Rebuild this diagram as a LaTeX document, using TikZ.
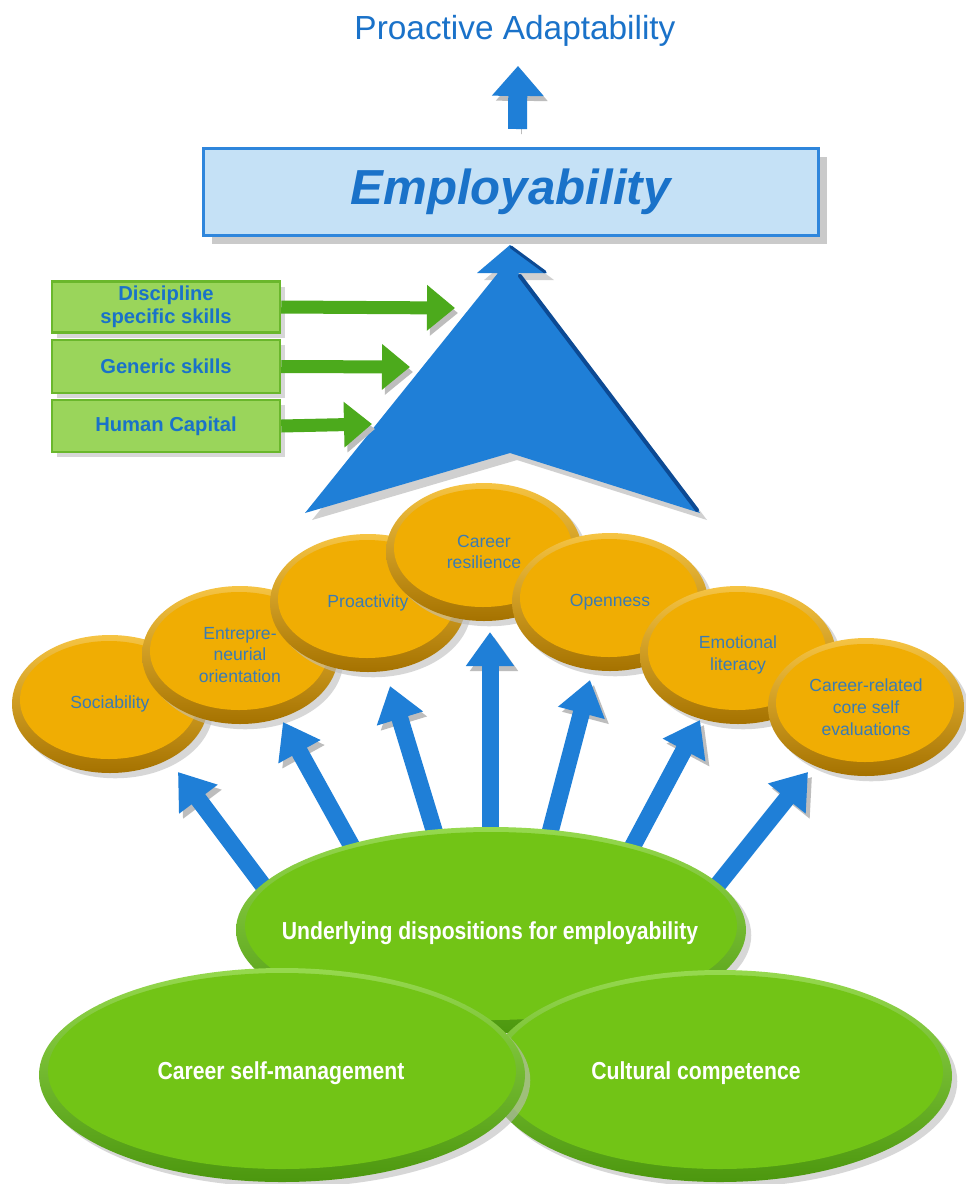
\documentclass[tikz,border=0pt]{standalone}
\usepackage{fontspec}
\setmainfont{Liberation Sans}
\newfontfamily\narrowfont[FakeStretch=0.86]{Liberation Sans}
\usetikzlibrary{shapes.geometric,arrows.meta,shadows}
\newlength\pxu
\setlength\pxu{0.02cm}
\definecolor{tblue}{HTML}{1A72C9}
\definecolor{boxfill}{HTML}{C5E1F6}
\definecolor{boxdraw}{HTML}{2F86DC}
\definecolor{bblue}{HTML}{1F7FD7}
\definecolor{bdark}{HTML}{0C4A94}
\definecolor{gboxfill}{HTML}{9AD55B}
\definecolor{gboxdraw}{HTML}{6AB72C}
\definecolor{garrow}{HTML}{4CAA1C}
\definecolor{otext}{HTML}{3A7BB4}
\definecolor{orimT}{HTML}{F6C443}
\definecolor{orimB}{HTML}{A57200}
\definecolor{oface}{HTML}{F0AD03}
\definecolor{grimT}{HTML}{96D94F}
\definecolor{grimB}{HTML}{4C970E}
\definecolor{gface}{HTML}{72C416}
\definecolor{shdcol}{HTML}{BDBDBD}
\tikzset{
  shd/.style={drop shadow={shadow xshift=3pt,shadow yshift=-3pt,fill=shdcol,opacity=0.6}},
  oell/.style={ellipse, inner sep=0pt, minimum width=196\pxu, minimum height=138\pxu,
    top color=orimT, bottom color=orimB, shd,
    path picture={\fill[oface] ([xshift=-1\pxu,yshift=4\pxu]path picture bounding box.center) ellipse [x radius=89\pxu, y radius=59\pxu];},
    text=otext, align=center, font=\fontsize{10}{12.4}\selectfont},
  gell/.style n args={4}{ellipse, inner sep=0pt, minimum width=#1\pxu, minimum height=#2\pxu,
    top color=grimT, bottom color=grimB, shd,
    path picture={\fill[gface] ([yshift=4\pxu]path picture bounding box.center) ellipse [x radius=#3\pxu, y radius=#4\pxu];}},
  gtext/.style={text=white, font=\narrowfont\bfseries\fontsize{14}{16}\selectfont, inner sep=0pt},
  gbox/.style={draw=gboxdraw, fill=gboxfill, line width=2.5\pxu, minimum width=228\pxu, inner sep=0pt,
    text=tblue, align=center, font=\bfseries\fontsize{11.5}{13.2}\selectfont, shd},
  barrow/.style={line width=0.34cm, draw=bblue, -{Triangle[width=0.92cm,length=0.68cm]},
    preaction={draw=shdcol, transform canvas={shift={(0.08cm,-0.1cm)}}}},
  garr/.style={line width=0.26cm, draw=garrow, -{Triangle[width=0.88cm,length=0.56cm]},
    preaction={draw=shdcol, transform canvas={shift={(0.06cm,-0.1cm)}}}},
  tarr/.style={line width=0.38cm, draw=bblue, -{Triangle[width=1cm,length=0.6cm]},
    preaction={draw=shdcol, transform canvas={shift={(0.08cm,-0.1cm)}}}},
}
\begin{document}
\begin{tikzpicture}[x=0.02cm,y=-0.02cm]
\useasboundingbox (0,0) rectangle (966,1184);
\fill[white] (0,0) rectangle (966,1184);

% title
\node[text=tblue, font=\fontsize{19}{22}\selectfont, inner sep=0pt] (pa) at (515,31) {Proactive Adaptability};

% Employability box
\node[draw=boxdraw, fill=boxfill, line width=3\pxu, minimum width=615\pxu, minimum height=87\pxu,
  drop shadow={shadow xshift=5pt,shadow yshift=-5pt,fill=shdcol,opacity=0.8},
  text=tblue, font=\bfseries\itshape\fontsize{28}{32}\selectfont] (emp) at (510.5,192) {Employability};

% arrow to Proactive Adaptability
\draw[tarr] ([xshift=0.14cm,yshift=0.36cm]emp.north) -- ([xshift=0.06cm,yshift=-0.38cm]pa.south);

% big blue arrowhead
\coordinate (tip) at (510,245);
\coordinate (t1) at (455,308);
\coordinate (t2) at (410,367);
\coordinate (t3) at (372,424);
\fill[bblue, drop shadow={shadow xshift=4pt,shadow yshift=-4pt,fill=shdcol,opacity=0.7}]
  (tip) -- (547,273) -- (518,273) -- (700,513) -- (510,453) -- (305,513) -- (498,273) -- (477,273) -- cycle;
\draw[bdark, line width=4\pxu, line cap=round] (520,276) -- (697,510);
\draw[bdark, line width=3\pxu, line cap=round] (511,247) -- (545,272);

% green boxes
\node[gbox, minimum height=51\pxu] (b1) at (166,307) {Discipline\\specific skills};
\node[gbox, minimum height=53\pxu] (b2) at (166,366.5) {Generic skills};
\node[gbox, minimum height=52\pxu] (b3) at (166,426) {Human Capital};
\draw[garr] (b1.east) -- (t1);
\draw[garr] (b2.east) -- (t2);
\draw[garr] (b3.east) -- (t3);

% orange ellipses
\node[oell] (soc) at (110,704) {Sociability};
\node[oell] (ent) at (240,655) {Entrepre-\\neurial\\orientation};
\node[oell] (pro) at (368,603) {Proactivity};
\node[oell] (res) at (484,552) {Career\\resilience};
\node[oell] (ope) at (610,602) {Openness};
\node[oell] (emo) at (738,655) {Emotional\\literacy};
\node[oell] (crc) at (866,707) {Career-related\\core self\\evaluations};

% underlying ellipse (position reference for arrows)
\coordinate (uc) at (491,930);
\draw[barrow] ([shift={(-223,-38)}]uc) -- ([shift={(68,68)}]soc.center);
\draw[barrow] ([shift={(-136,-78)}]uc) -- ([shift={(43,67)}]ent.center);
\draw[barrow] ([shift={(-54,-90)}]uc) -- ([shift={(22,83)}]pro.center);
\draw[barrow] ([shift={(-1,-92)}]uc) -- ([shift={(6,80)}]res.center);
\draw[barrow] ([shift={(57,-90)}]uc) -- ([shift={(-20,78)}]ope.center);
\draw[barrow] ([shift={(137,-75)}]uc) -- ([shift={(-38,65)}]emo.center);
\draw[barrow] ([shift={(221,-38)}]uc) -- ([shift={(-58,65)}]crc.center);

\node[gell={510}{206}{246}{94}] (und) at (uc) {};
\node[gtext] (undtxt) at (490,933) {Underlying dispositions for employability};

% bottom ellipses
\node[gell={464}{212}{223}{97}] (cul) at (720,1076) {};
\node[gtext] (cultxt) at (696,1073) {Cultural competence};
\node[gell={486}{214}{234}{98}] (csm) at (282,1075) {};
\node[gtext] (csmtxt) at (281,1073) {Career self-management};
\end{tikzpicture}
\end{document}
